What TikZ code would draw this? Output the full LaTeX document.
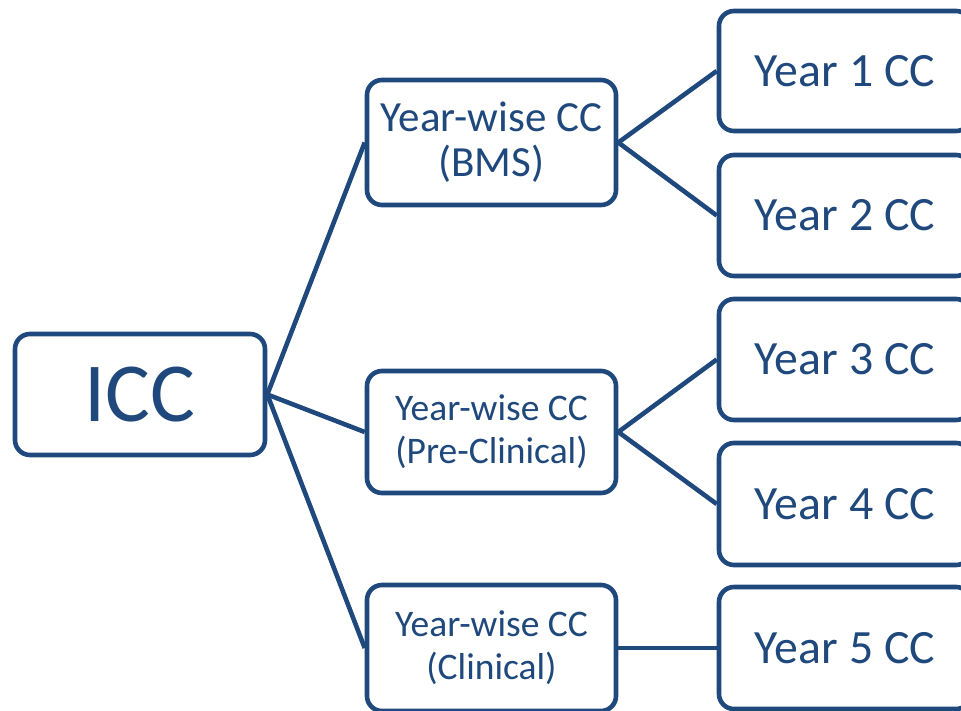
\documentclass[tikz,border=0pt]{standalone}
\usepackage{fontspec}
\setmainfont{Carlito}
\definecolor{navy}{RGB}{31,72,124}
\begin{document}
\begin{tikzpicture}[x=1pt,y=-1pt,
  box/.style={draw=navy,line width=4.6pt,rounded corners=15pt,rectangle,
    text=navy,align=center,inner sep=0pt,fill=white},
  link/.style={draw=navy,line width=4.6pt}]
\useasboundingbox (0,0) rectangle (961,710);
\clip (0,0) rectangle (961,710);
\node[box,minimum width=250pt,minimum height=121pt,font=\fontsize{84}{90}\selectfont] (icc) at (140,394.5) {ICC};
\node[box,minimum width=249pt,minimum height=125pt,font=\fontsize{43}{45}\selectfont] (bms) at (491.5,142.5) {Year-wise CC\\(BMS)};
\node[box,minimum width=249pt,minimum height=122pt,font=\fontsize{37.5}{43}\selectfont] (pre) at (491.5,432) {Year-wise CC\\(Pre-Clinical)};
\node[box,minimum width=249pt,minimum height=126pt,font=\fontsize{37.5}{43}\selectfont] (cli) at (491.5,648) {Year-wise CC\\(Clinical)};
\node[box,minimum width=252pt,minimum height=120pt,font=\fontsize{47.8}{50}\selectfont] (y1) at (845,71) {Year 1 CC};
\node[box,minimum width=252pt,minimum height=121pt,font=\fontsize{47.8}{50}\selectfont] (y2) at (845,215.5) {Year 2 CC};
\node[box,minimum width=252pt,minimum height=121pt,font=\fontsize{47.8}{50}\selectfont] (y3) at (845,359.5) {Year 3 CC};
\node[box,minimum width=252pt,minimum height=122pt,font=\fontsize{47.8}{50}\selectfont] (y4) at (845,504) {Year 4 CC};
\node[box,minimum width=252pt,minimum height=122pt,font=\fontsize{47.8}{50}\selectfont] (y5) at (845,648) {Year 5 CC};
\draw[link] (icc.east) -- (bms.west);
\draw[link] (icc.east) -- (pre.west);
\draw[link] (icc.east) -- (cli.west);
\draw[link] (bms.east) -- (y1.west);
\draw[link] (bms.east) -- (y2.west);
\draw[link] (pre.east) -- (y3.west);
\draw[link] (pre.east) -- (y4.west);
\draw[link] (cli.east) -- (y5.west);
\end{tikzpicture}
\end{document}
